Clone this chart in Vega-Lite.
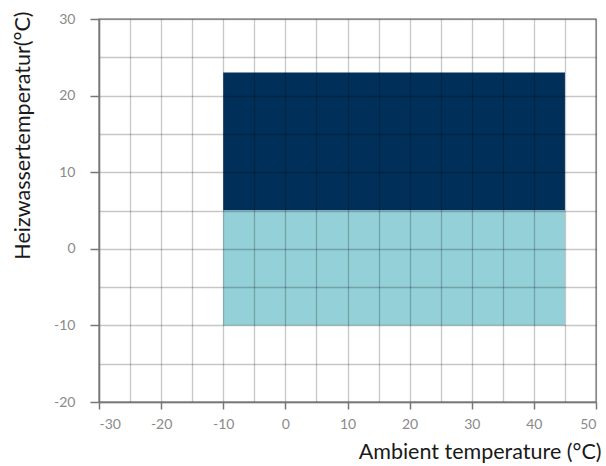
{
  "$schema": "https://vega.github.io/schema/vega-lite/v6.json",
  "width": 497,
  "height": 383,
  "autosize": {"type": "none"},
  "padding": {"left": 99, "top": 19, "right": 10, "bottom": 64},
  "background": "white",
  "config": {
    "view": {"stroke": "#999999", "strokeWidth": 1.5},
    "font": "Lato",
    "axis": {
      "labelFont": "Lato",
      "titleFont": "Lato",
      "labelColor": "#8a8a8a",
      "labelFontSize": 14,
      "titleFontSize": 21.5,
      "titleFontWeight": "normal",
      "titleColor": "#1a1a1a",
      "domainColor": "#777777",
      "domainWidth": 1.5,
      "tickColor": "#777777",
      "tickWidth": 1.5,
      "gridColor": "#000000",
      "gridOpacity": 0.22,
      "gridWidth": 1.3
    }
  },
  "data": {
    "values": [
      {"zone": "high", "x0": -10, "x1": 45, "y0": 5, "y1": 23},
      {"zone": "low", "x0": -10, "x1": 45, "y0": -10, "y1": 5}
    ]
  },
  "mark": {"type": "rect"},
  "encoding": {
    "x": {
      "field": "x0",
      "type": "quantitative",
      "scale": {"domain": [-30, 50], "nice": false, "zero": false},
      "axis": {
        "zindex": 1,
        "values": [-30, -25, -20, -15, -10, -5, 0, 5, 10, 15, 20, 25, 30, 35, 40, 45, 50],
        "labelExpr": "datum.value % 10 === 0 ? toString(datum.value) : ''",
        "tickOpacity": {"condition": {"test": "datum.value % 10 !== 0", "value": 0}, "value": 1},
        "tickSize": 7,
        "labelPadding": 8,
        "title": "Ambient temperature (°C)",
        "titleAnchor": "end",
        "titleAlign": "right",
        "titleX": 502,
        "titleY": 39,
        "titleBaseline": "top"
      }
    },
    "x2": {"field": "x1"},
    "y": {
      "field": "y0",
      "type": "quantitative",
      "scale": {"domain": [-20, 30], "nice": false, "zero": false},
      "axis": {
        "zindex": 1,
        "values": [-20, -15, -10, -5, 0, 5, 10, 15, 20, 25, 30],
        "labelExpr": "datum.value % 10 === 0 ? toString(datum.value) : ''",
        "tickOpacity": {"condition": {"test": "datum.value % 10 !== 0", "value": 0}, "value": 1},
        "tickSize": 9,
        "labelPadding": 15,
        "title": "Heizwassertemperatur(°C)",
        "titleAnchor": "end",
        "titleAlign": "right",
        "titleX": -65,
        "titleY": -8,
        "titleBaseline": "bottom"
      }
    },
    "y2": {"field": "y1"},
    "color": {
      "field": "zone",
      "type": "nominal",
      "scale": {"domain": ["high", "low"], "range": ["#00305a", "#94d0d7"]},
      "legend": null
    }
  }
}
